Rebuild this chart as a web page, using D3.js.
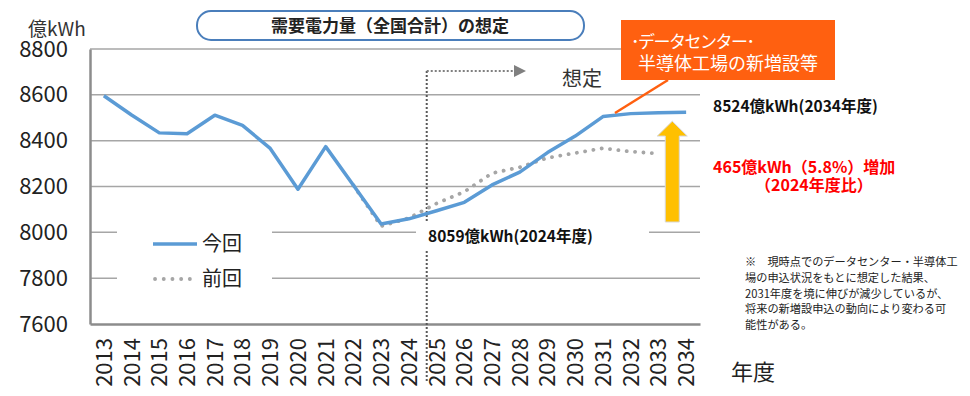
<!DOCTYPE html>
<html>
<head>
<meta charset="utf-8">
<script src="https://cdn.jsdelivr.net/npm/d3@7"></script>
<style>
  body { margin: 0; background: #fff; }
  text { font-family: "Noto Sans CJK JP", "Noto Sans", sans-serif; }
</style>
</head>
<body>
<div id="chart"></div>
<script>
// data (億kWh)
var years = ["2013","2014","2015","2016","2017","2018","2019","2020","2021","2022","2023",
             "2024","2025","2026","2027","2028","2029","2030","2031","2032","2033","2034"];
var current = [8596, 8512, 8434, 8430, 8511, 8467, 8366, 8188, 8374, 8205, 8036,
               8059, 8094, 8131, 8207, 8263, 8348, 8420, 8505, 8518, 8522, 8524];
var previous = [null, null, null, null, null, null, null, null, null, 8205, 8027,
                8062, 8126, 8177, 8258, 8284, 8325, 8346, 8367, 8352, 8344, null];
var yTicks = [7600, 7800, 8000, 8200, 8400, 8600, 8800];
var seriesNames = ["今回", "前回"];
var footnote = ["※　現時点でのデータセンター・半導体工",
                "場の申込状況をもとに想定した結果、",
                "2031年度を境に伸びが減少しているが、",
                "将来の新増設申込の動向により変わる可",
                "能性がある。"];

function init(){
    var w = 970, h = 396;
    var blue = "#5B9BD5", grey = "#A6A6A6";

    var svg = d3.select("#chart").append("svg")
                .attr("width", w).attr("height", h);

    var x = d3.scaleBand().domain(years).range([90, 700]);
    var y = d3.scaleLinear().domain([7600, 8800]).range([324, 49]);
    var cx = function(d){ return x(d) + x.bandwidth() / 2; };

    // gridlines
    svg.append("g").selectAll("line")
       .data(yTicks.slice(1)).enter().append("line")
       .attr("x1", 90).attr("x2", 700)
       .attr("y1", function(d){ return y(d); })
       .attr("y2", function(d){ return y(d); })
       .attr("stroke", "#A6A6A6").attr("stroke-width", 1.5);

    // y axis
    var yAxis = svg.append("g")
       .attr("transform", "translate(90,0)")
       .call(d3.axisLeft(y).tickValues(yTicks).tickFormat(d3.format("d"))
               .tickSize(0).tickPadding(22));
    yAxis.select(".domain").attr("stroke", "#8C8C8C").attr("stroke-width", 2.5);
    yAxis.selectAll("text").style("font-size", "22px").attr("fill", "#222");

    // x axis
    var xAxis = svg.append("g")
       .attr("transform", "translate(0,324)")
       .call(d3.axisBottom(x).tickSize(0));
    xAxis.select(".domain").attr("stroke", "#8C8C8C").attr("stroke-width", 2.5);
    xAxis.selectAll("text")
       .style("font-size", "22px").attr("fill", "#222")
       .style("text-anchor", "end")
       .attr("transform", "rotate(-90)")
       .attr("x", -14).attr("y", 0).attr("dy", "0.36em");

    svg.append("text").attr("x", 28).attr("y", 36)
       .style("font-size", "19px").attr("fill", "#333").text("億kWh");
    svg.append("text").attr("x", 731).attr("y", 380)
       .style("font-size", "22px").attr("fill", "#222").text("年度");

    // boundary between actual and forecast
    var bx = x("2025") + 4;
    svg.append("line")
       .attr("x1", bx).attr("x2", bx).attr("y1", 71).attr("y2", 382)
       .attr("stroke", "#595959").attr("stroke-width", 2).attr("stroke-dasharray", "2 2");
    svg.append("line")
       .attr("x1", bx).attr("x2", 515).attr("y1", 71).attr("y2", 71)
       .attr("stroke", "#808080").attr("stroke-width", 2).attr("stroke-dasharray", "2 2");
    svg.append("path")
       .attr("d", "M514,65 L526,71 L514,77 Z").attr("fill", "#808080");
    svg.append("text").attr("x", 562).attr("y", 86)
       .style("font-size", "20px").attr("fill", "#333").text("想定");

    // white boxes behind legend and label
    svg.append("rect").attr("x", 117).attr("y", 222).attr("width", 155).attr("height", 76).attr("fill", "#fff");
    svg.append("rect").attr("x", 416).attr("y", 222).attr("width", 233).attr("height", 28).attr("fill", "#fff");

    // lines
    var line = d3.line()
                 .defined(function(d){ return d != null; })
                 .x(function(d, i){ return cx(years[i]); })
                 .y(function(d){ return y(d); });

    svg.append("path").datum(previous)
       .attr("d", line).attr("fill", "none")
       .attr("stroke", grey).attr("stroke-width", 3.8)
       .attr("stroke-linecap", "round").attr("stroke-dasharray", "0.1 8.3");

    svg.append("path").datum(current)
       .attr("d", line).attr("fill", "none")
       .attr("stroke", blue).attr("stroke-width", 3.5)
       .attr("stroke-linejoin", "round");

    // legend
    var legend = svg.selectAll("g.legend")
       .data(seriesNames).enter().append("g").attr("class", "legend")
       .attr("transform", function(d, i){ return "translate(153," + (244 + i * 35) + ")"; });
    legend.append("line")
       .attr("x1", function(d, i){ return i ? 2 : 0; }).attr("x2", 44)
       .attr("stroke", function(d, i){ return i ? grey : blue; })
       .attr("stroke-width", function(d, i){ return i ? 3.8 : 3.5; })
       .attr("stroke-linecap", function(d, i){ return i ? "round" : "butt"; })
       .attr("stroke-dasharray", function(d, i){ return i ? "0.1 8.6" : null; });
    legend.append("text").attr("x", 49).attr("dy", "0.36em")
       .style("font-size", "20px").attr("fill", "#222")
       .text(function(d){ return d; });

    // title
    svg.append("rect").attr("x", 197).attr("y", 11).attr("width", 387).attr("height", 29)
       .attr("rx", 14).attr("fill", "#fff").attr("stroke", "#4A7EBB").attr("stroke-width", 2);
    svg.append("text").attr("x", 390).attr("y", 26).attr("dy", "0.36em")
       .style("text-anchor", "middle").style("font-size", "17px").style("font-weight", "bold")
       .attr("fill", "#222").text("需要電力量（全国合計）の想定");

    // value labels
    svg.append("text").attr("x", 428).attr("y", 236).attr("dy", "0.36em")
       .style("font-size", "15.5px").style("font-weight", "bold").attr("fill", "#111")
       .text("8059億kWh(2024年度)");
    svg.append("text").attr("x", 713).attr("y", 106).attr("dy", "0.36em")
       .style("font-size", "15.5px").style("font-weight", "bold").attr("fill", "#111")
       .text("8524億kWh(2034年度)");
    var red = svg.append("text")
       .style("font-size", "16px").style("font-weight", "bold").attr("fill", "#FF0000");
    red.append("tspan").attr("x", 713).attr("y", 167).attr("dy", "0.36em")
       .text("465億kWh（5.8%）増加");
    red.append("tspan").attr("x", 755).attr("y", 185).attr("dy", "0.36em")
       .text("（2024年度比）");

    // growth arrow
    var ax = x("2034"), top = y(8485), headB = y(8420), bot = y(8045);
    svg.append("path")
       .attr("d", "M" + (ax - 7) + "," + bot + " L" + (ax - 7) + "," + headB +
                  " L" + (ax - 15) + "," + headB + " L" + ax + "," + top +
                  " L" + (ax + 15) + "," + headB + " L" + (ax + 7) + "," + headB +
                  " L" + (ax + 7) + "," + bot + " Z")
       .attr("fill", "#FFC000").attr("stroke", "#D9D9D9").attr("stroke-width", 1);

    // callout
    svg.append("line").attr("x1", 615).attr("y1", 113).attr("x2", 668).attr("y2", 80)
       .attr("stroke", "#FF6010").attr("stroke-width", 2.5);
    svg.append("rect").attr("x", 621).attr("y", 20).attr("width", 214).attr("height", 60)
       .attr("fill", "#FF6010");
    var call = svg.append("text").attr("fill", "#fff");
    call.append("tspan").attr("x", 631).attr("y", 42).attr("dy", "0.36em")
       .style("font-size", "17px").style("letter-spacing", "-1.5px")
       .text("･データセンター･");
    call.append("tspan").attr("x", 728).attr("y", 64).attr("dy", "0.36em")
       .style("text-anchor", "middle").style("font-size", "18px")
       .text("半導体工場の新増設等");

    // footnote
    svg.append("g").selectAll("text")
       .data(footnote).enter().append("text")
       .attr("x", 745).attr("y", function(d, i){ return 262 + i * 15.8; })
       .attr("dy", "0.36em")
       .style("font-size", "11.2px").attr("fill", "#222")
       .text(function(d){ return d; });
}

window.onload = init;
</script>
</body>
</html>
